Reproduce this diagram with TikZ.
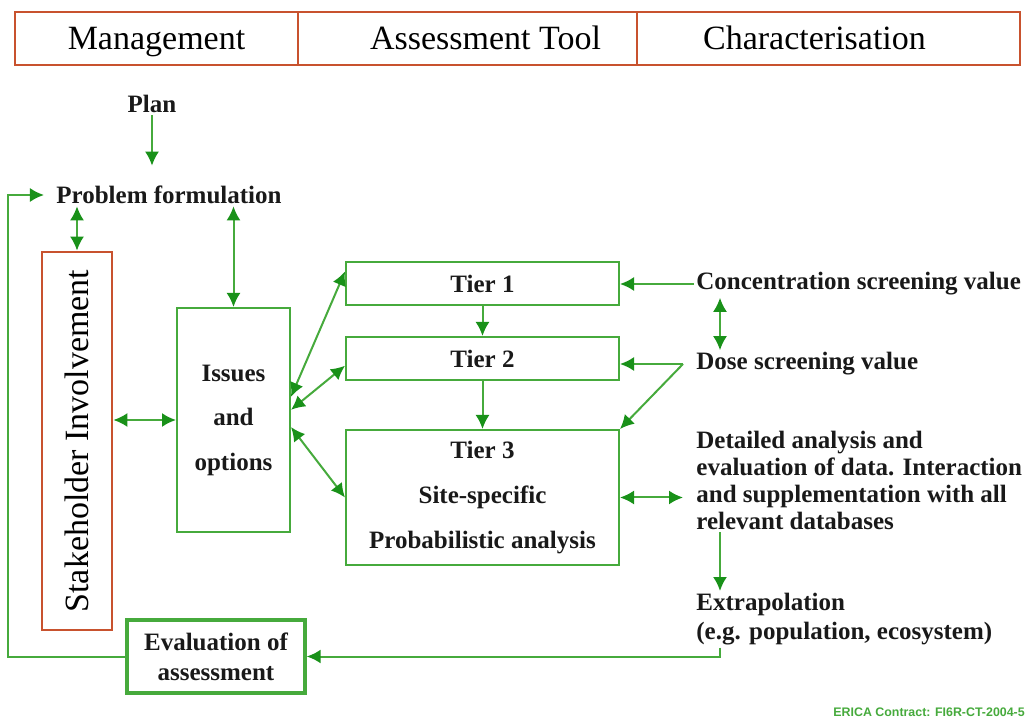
\documentclass[tikz,border=0pt]{standalone}
\usepackage{fontspec}
\setmainfont{Liberation Serif}
\newfontfamily\footfont{Liberation Sans}
\usepackage{tikz}
\usetikzlibrary{arrows.meta}

\definecolor{hdrred}{RGB}{200,82,46}
\definecolor{boxgreen}{RGB}{70,170,60}
\definecolor{arrgreen}{RGB}{25,145,25}

\begin{document}
\begin{tikzpicture}[x=0.5pt,y=-0.5pt,
	hdr/.style={draw=hdrred,line width=1.2pt,minimum height=26.5pt,inner sep=0pt,
		text height=12pt,text depth=0.5pt,font=\fontsize{17}{20}\selectfont},
	txt/.style={inner sep=1pt,text=black!90,font=\bfseries\fontsize{12.5}{14}\selectfont},
	tierbox/.style={txt,draw=boxgreen,line width=1pt,minimum width=136.5pt},
	arr/.style={draw=boxgreen,line width=1pt,-{Latex[length=7pt,width=7pt,color=arrgreen]}},
	darr/.style={arr,{Latex[length=7pt,width=7pt,color=arrgreen]}-{Latex[length=7pt,width=7pt,color=arrgreen]}}]
	\useasboundingbox (0,0) rectangle (1025,717);
	% header row
	\node[hdr,minimum width=141.5pt] (mgmt) at (156.5,38.5) {Management};
	\node[hdr,minimum width=169.5pt] (tool) at (467.5,38.5) {\hspace*{18pt}Assessment Tool};
	\node[hdr,minimum width=191.5pt] (char) at (828.5,38.5) {Characterisation\hspace*{14pt}};
	% management column
	\node[txt] (plan) at (152,104) {Plan};
	\node[txt] (prob) at (169,195) {Problem formulation};
	\node[draw=hdrred,line width=1.4pt,minimum width=35pt,minimum height=189pt,inner sep=0pt,
		font=\fontsize{17}{20}\selectfont] (stk) at (77,441) {\rotatebox{90}{Stakeholder Involvement}};
	\node[tierbox,minimum width=56.5pt,minimum height=112pt,align=center,
		font=\bfseries\fontsize{12.5}{22.25}\selectfont] (iss) at (233.5,420) {Issues\\and\\options};
	\node[txt,draw=boxgreen,line width=1.7pt,minimum width=89pt,minimum height=36.5pt,align=center,
		font=\bfseries\fontsize{12.5}{15}\selectfont] (eval) at (216,656.5) {Evaluation of\\assessment};
	% tiers
	\node[tierbox,minimum height=21.5pt] (tone) at (482.5,283.5) {Tier 1};
	\node[tierbox,minimum height=21.5pt] (ttwo) at (482.5,358.5) {Tier 2};
	\node[tierbox,minimum height=67.5pt,align=center,
		font=\bfseries\fontsize{12.5}{22.5}\selectfont] (tthree) at (482.5,497.5) {Tier 3\\Site-specific\\Probabilistic analysis};
	% characterisation column
	\node[txt,anchor=west] (conc) at (694,284) {Concentration screening value};
	\node[txt,anchor=west] (dose) at (694,364) {Dose screening value};
	\node[txt,anchor=north west,align=left,font=\bfseries\fontsize{12.5}{13.5}\selectfont] (det) at (694,429)
		{Detailed analysis and\\evaluation of data. Interaction\\and supplementation with all\\relevant databases};
	\node[txt,anchor=north west,align=left,font=\bfseries\fontsize{12.5}{14.5}\selectfont] (extra) at (694,591)
		{Extrapolation\\(e.g. population, ecosystem)};
	\node[inner sep=0pt,anchor=west,text=boxgreen,font=\footfont\bfseries\fontsize{6.2}{7}\selectfont] (foot) at (833,712)
		{ERICA Contract: FI6R-CT-2004-5};
	\coordinate (cx) at (720,0);
	\coordinate (dx) at (683,0);
	\coordinate (fb) at (8,0);
	% connectors
	\draw[arr,shorten >=9pt] (plan) -- (plan |- prob.north);
	\draw[darr] (stk.north |- prob.south) -- (stk.north);
	\draw[darr] (iss.north |- prob.south) -- (iss.north);
	\draw[darr] (stk.east |- iss.west) -- (iss.west);
	\draw[darr] (iss.22) -- (tone.175.6);
	\draw[darr] (iss.10) -- (tone.175.6 |- ttwo.-177.3);
	\draw[darr] (iss.-7) -- (tthree.west);
	\draw[arr] (tone) -- (ttwo);
	\draw[arr] (ttwo) -- (tthree);
	\draw[arr] (conc.west) -- (conc.west -| tone.east);
	\draw[darr] (conc.south -| cx) -- (dose.north -| cx);
	\draw[arr] (dose.west -| dx) -- (dose.west -| ttwo.east);
	\draw[arr] (dose.west -| dx) -- (tthree.north east);
	\draw[darr] (tthree.east) -- (dx |- tthree.east);
	\draw[arr] (det.south -| cx) -- (extra.north -| cx);
	\draw[arr] (extra.south -| cx) |- (eval.east);
	\draw[arr,shorten >=5pt] (eval.west) -- (eval.west -| fb) |- (prob.west);
\end{tikzpicture}
\end{document}
